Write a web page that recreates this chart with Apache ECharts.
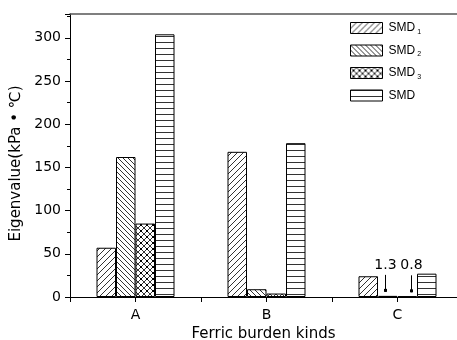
<!DOCTYPE html>
<html>
<head>
<meta charset="utf-8">
<title>Eigenvalue</title>
<script src="https://cdn.jsdelivr.net/npm/echarts@6/dist/echarts.min.js"></script>
<style>
html, body { margin:0; padding:0; background:#fff; }
#main { width:457px; height:340px; }
</style>
</head>
<body>
<div id="main"></div>
<script>
// data
var categories = ['A', 'B', 'C'];
var seriesNames = ['SMD1', 'SMD2', 'SMD3', 'SMD'];
var smd1 = [57, 168, 24];
var smd2 = [162, 9, 1.3];
var smd3 = [85, 4, 0.8];
var smdTotal = [304, 178, 27];
var yTicks = [0, 50, 100, 150, 200, 250, 300];
// small values pointed at by arrows on group C: [category index, value, side]
var notes = [[3, 1.3, -1], [3, 0.8, 1]];

function makeTile(kind) {
    var c = document.createElement('canvas');
    var s = kind === 'b' ? 5 : 6;
    c.width = s; c.height = s;
    var g = c.getContext('2d');
    g.fillStyle = '#fff';
    g.fillRect(0, 0, s, s);
    g.strokeStyle = '#333';
    g.lineWidth = 1;
    g.beginPath();
    if (kind === 'f') {          // forward slash
        g.moveTo(-1, s + 1); g.lineTo(s + 1, -1);
        g.moveTo(-1, 1); g.lineTo(1, -1);
        g.moveTo(s - 1, s + 1); g.lineTo(s + 1, s - 1);
    } else if (kind === 'b') {   // back slash
        g.moveTo(-1, -1); g.lineTo(s + 1, s + 1);
        g.moveTo(s - 1, -1); g.lineTo(s + 1, 1);
        g.moveTo(-1, s - 1); g.lineTo(1, s + 1);
    } else if (kind === 'x') {   // cross hatch
        g.moveTo(-1, -1); g.lineTo(s + 1, s + 1);
        g.moveTo(-1, s + 1); g.lineTo(s + 1, -1);
    } else {                     // horizontal
        g.moveTo(0, 0.5); g.lineTo(s, 0.5);
    }
    g.stroke();
    if (kind === 'x') {
        g.fillStyle = '#000';
        g.fillRect(2, 2, 2, 2);
    }
    return c;
}
var tiles = ['f', 'b', 'x', 'h'].map(function (k) {
    return { image: makeTile(k), repeat: 'repeat' };
});

var fontName = '"Liberation Sans", Arial, sans-serif';
var wideFont = '"DejaVu Sans", sans-serif';

function pairs(arr) {
    return arr.map(function (v, i) { return [i + 1, v]; });
}

function barSeries(name, arr, idx) {
    return {
        name: name,
        type: 'bar',
        data: pairs(arr),
        barWidth: 19.5,
        barGap: '0%',
        itemStyle: { color: tiles[idx], borderColor: '#000', borderWidth: 1 },
        emphasis: { disabled: true }
    };
}

var myChart = echarts.init(document.getElementById('main'), null, { renderer: 'canvas' });

var option = {
    animation: false,
    backgroundColor: '#fff',
    textStyle: { fontFamily: fontName },
    grid: { left: 70, right: 0, top: 14, bottom: 43, containLabel: false, outerBoundsMode: 'none' },
    legend: {
        orient: 'vertical',
        left: 350,
        top: 22,
        padding: 0,
        icon: 'rect',
        itemWidth: 32,
        itemHeight: 11,
        itemGap: 9,
        data: seriesNames,
        itemStyle: { borderColor: '#000', borderWidth: 1 },
        textStyle: {
            fontFamily: fontName,
            fontSize: 12,
            color: '#000',
            padding: [0, 0, 0, 1],
            rich: {
                m: { fontSize: 12, color: '#000', fontFamily: fontName },
                s: { fontSize: 7, color: '#000', fontFamily: fontName, padding: [8, 0, 0, 2] }
            }
        },
        formatter: function (n) {
            if (n.length > 3) {
                return '{m|SMD}{s|' + n.slice(3) + '}';
            }
            return '{m|SMD}';
        }
    },
    xAxis: [{
        type: 'value',
        min: 0.5,
        max: 0.5 + 387 / 131,
        interval: 0.5,
        splitLine: { show: false },
        axisLine: { lineStyle: { color: '#000', width: 1 } },
        axisTick: { length: 5, lineStyle: { color: '#000' } },
        axisLabel: {
            fontSize: 14,
            fontFamily: wideFont,
            color: '#000',
            margin: 11,
            showMaxLabel: false,
            formatter: function (v) {
                return (v % 1 === 0 && categories[v - 1]) ? categories[v - 1] : '';
            }
        },
        name: 'Ferric burden kinds',
        nameLocation: 'middle',
        nameGap: 27,
        nameTextStyle: { fontSize: 15, fontFamily: wideFont, color: '#000' }
    }, {
        type: 'value',
        position: 'top',
        min: 0.5,
        max: 0.5 + 387 / 131,
        axisLine: { show: true, lineStyle: { color: '#555', width: 1.5 } },
        axisTick: { show: false },
        axisLabel: { show: false },
        splitLine: { show: false }
    }],
    yAxis: {
        type: 'value',
        min: 0,
        max: 327.5,
        interval: 50,
        splitLine: { show: false },
        axisLine: { show: true, lineStyle: { color: '#000', width: 1 } },
        axisTick: { show: true, length: 5, lineStyle: { color: '#000' } },
        minorTick: { show: true, splitNumber: 2, length: 3, lineStyle: { color: '#000' } },
        axisLabel: {
            fontSize: 14,
            fontFamily: wideFont,
            color: '#000',
            margin: 9,
            showMaxLabel: false,
            formatter: function (v) { return yTicks.indexOf(v) >= 0 ? String(v) : ''; }
        },
        name: 'Eigenvalue(kPa • ℃)',
        nameLocation: 'middle',
        nameRotate: 90,
        nameGap: 40,
        nameTextStyle: { fontSize: 15, fontFamily: wideFont, color: '#000', padding: [0, 16, 0, 0] }
    },
    series: [
        barSeries(seriesNames[0], smd1, 0),
        barSeries(seriesNames[1], smd2, 1),
        barSeries(seriesNames[2], smd3, 2),
        barSeries(seriesNames[3], smdTotal, 3),
        {
            type: 'custom',
            name: 'notes',
            silent: true,
            z: 10,
            data: notes,
            renderItem: function (params, api) {
                var p = api.coord([api.value(0), api.value(1)]);
                var x = Math.round(p[0] + api.value(2) * 13) + 0.5;
                var tip = p[1] - 4;
                var top = tip - 17;
                return {
                    type: 'group',
                    children: [
                        { type: 'line', shape: { x1: x, y1: top, x2: x, y2: tip }, style: { stroke: '#000', lineWidth: 1 } },
                        { type: 'rect', shape: { x: x - 1.5, y: tip - 3, width: 3, height: 3 }, style: { fill: '#000' } },
                        { type: 'text', style: { text: String(api.value(1)), x: x, y: top - 3, align: 'center', verticalAlign: 'bottom', fontSize: 14, fontFamily: wideFont, fill: '#000' } }
                    ]
                };
            }
        }
    ]
};

myChart.setOption(option);
</script>
</body>
</html>
